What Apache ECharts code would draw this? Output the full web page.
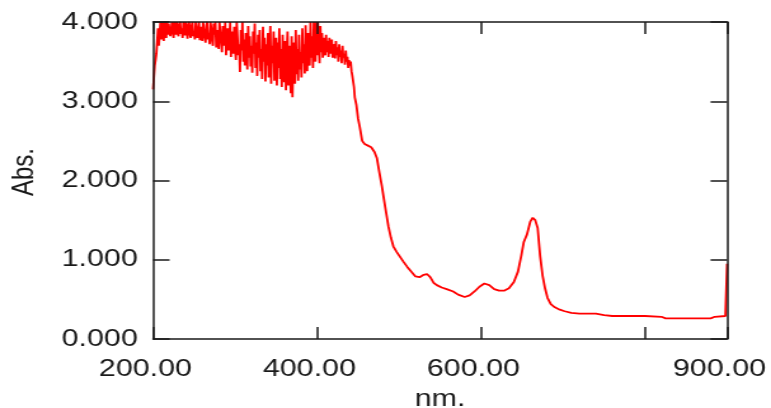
<!DOCTYPE html>
<html>
<head>
<meta charset="utf-8">
<script src="https://cdn.jsdelivr.net/npm/echarts@6/dist/echarts.min.js"></script>
<style>
  html, body { margin: 0; padding: 0; background: #fff; overflow: hidden; }
  /* the source picture is a horizontally stretched bitmap, so the chart is drawn narrow and stretched */
  #chart { width: 607px; height: 408px; transform: scaleX(1.2702); transform-origin: 0 0; }
</style>
</head>
<body>
<div id="chart"></div>
<script>
// noisy UV part, 1 nm steps
var uvWavelength = [
  200, 201, 202, 203, 204, 205, 206, 207, 208, 209, 210, 211, 212, 213, 214, 215, 216, 217, 218, 219,
  220, 221, 222, 223, 224, 225, 226, 227, 228, 229, 230, 231, 232, 233, 234, 235, 236, 237, 238, 239,
  240, 241, 242, 243, 244, 245, 246, 247, 248, 249, 250, 251, 252, 253, 254, 255, 256, 257, 258, 259,
  260, 261, 262, 263, 264, 265, 266, 267, 268, 269, 270, 271, 272, 273, 274, 275, 276, 277, 278, 279,
  280, 281, 282, 283, 284, 285, 286, 287, 288, 289, 290, 291, 292, 293, 294, 295, 296, 297, 298, 299,
  300, 301, 302, 303, 304, 305, 306, 307, 308, 309, 310, 311, 312, 313, 314, 315, 316, 317, 318, 319,
  320, 321, 322, 323, 324, 325, 326, 327, 328, 329, 330, 331, 332, 333, 334, 335, 336, 337, 338, 339,
  340, 341, 342, 343, 344, 345, 346, 347, 348, 349, 350, 351, 352, 353, 354, 355, 356, 357, 358, 359,
  360, 361, 362, 363, 364, 365, 366, 367, 368, 369, 370, 371, 372, 373, 374, 375, 376, 377, 378, 379,
  380, 381, 382, 383, 384, 385, 386, 387, 388, 389, 390, 391, 392, 393, 394, 395, 396, 397, 398, 399,
  400, 401, 402, 403, 404, 405, 406, 407, 408, 409, 410, 411, 412, 413, 414, 415, 416, 417, 418, 419,
  420, 421, 422, 423, 424, 425, 426, 427, 428, 429, 430, 431, 432, 433, 434, 435, 436, 437, 438, 439,
  440, 441, 442, 443, 444, 445, 446, 447, 448
];
var uvAbsorbance = [
  3.15, 3.30, 3.45, 3.52, 3.60, 3.75, 3.92, 3.70, 3.85, 4.00, 3.78, 4.00, 3.88, 3.76, 4.00, 3.95, 3.80, 4.00, 3.84, 3.98,
  4.00, 3.82, 3.90, 4.00, 3.86, 3.80, 4.00, 3.94, 3.84, 4.00, 3.88, 3.82, 3.97, 4.00, 3.85, 3.92, 3.80, 4.00, 3.88, 3.83,
  4.00, 3.90, 3.79, 3.96, 4.00, 3.84, 3.80, 3.95, 4.00, 3.82, 3.88, 3.78, 4.00, 3.92, 3.80, 3.86, 4.00, 3.77, 3.94, 3.84,
  3.76, 4.00, 3.90, 3.80, 3.74, 3.96, 4.00, 3.78, 3.86, 3.72, 4.00, 3.92, 3.76, 3.70, 3.98, 3.84, 4.00, 3.68, 3.82, 3.90,
  3.66, 4.00, 3.86, 3.74, 3.62, 3.95, 3.80, 3.70, 4.00, 3.58, 3.84, 3.92, 3.64, 3.76, 4.00, 3.56, 3.88, 3.70, 3.60, 3.94,
  3.66, 3.52, 4.00, 3.80, 3.58, 3.72, 3.37, 3.90, 3.64, 4.00, 3.50, 3.78, 3.45, 3.86, 3.62, 3.40, 3.95, 3.55, 3.82, 3.44,
  3.70, 3.36, 3.88, 3.60, 3.98, 3.42, 3.74, 3.32, 3.84, 3.55, 3.90, 3.38, 3.66, 3.28, 3.94, 3.50, 3.80, 3.25, 3.72, 3.45,
  3.86, 3.30, 3.62, 3.95, 3.22, 3.70, 3.48, 3.88, 3.26, 3.60, 3.80, 3.20, 3.74, 3.42, 3.92, 3.28, 3.66, 3.18, 3.84, 3.50,
  3.24, 3.76, 3.14, 3.60, 3.88, 3.20, 3.70, 3.36, 3.10, 3.82, 3.05, 3.58, 3.74, 3.22, 3.90, 3.34, 3.66, 3.26, 3.84, 3.40,
  3.62, 3.30, 3.92, 3.48, 3.72, 3.35, 3.96, 3.52, 3.38, 3.86, 3.60, 3.45, 4.00, 3.55, 3.82, 3.42, 4.00, 3.66, 3.50, 4.00,
  3.58, 4.00, 3.72, 3.48, 3.95, 3.62, 3.86, 3.55, 3.80, 3.66, 3.58, 3.84, 3.62, 3.76, 3.56, 3.80, 3.66, 3.60, 3.78, 3.55,
  3.72, 3.62, 3.54, 3.76, 3.58, 3.68, 3.50, 3.72, 3.56, 3.64, 3.48, 3.70, 3.55, 3.60, 3.46, 3.64, 3.50, 3.56, 3.42, 3.52,
  3.45, 3.50, 3.38, 3.32, 3.25, 3.18, 3.05, 3.00, 2.95
];
// smoother visible / NIR part
var visWavelength = [
  450, 452, 455, 458, 462, 466, 470, 473, 476, 479, 483, 487, 490, 493, 497,
  501, 505, 510, 515, 520, 525, 530, 534, 538, 542, 546, 552, 558, 566, 572, 580, 586, 592, 598, 604,
  610, 616, 622, 628, 634, 640, 645, 649, 652, 656, 660, 663, 666, 669, 672, 675, 678, 681, 685, 690,
  696, 702, 710, 720, 730, 740, 750, 760, 780, 800, 820, 825, 850, 880, 885, 898, 900
];
var visAbsorbance = [
  2.78, 2.68, 2.50, 2.46, 2.44, 2.42, 2.36, 2.28, 2.10, 1.93, 1.67, 1.42, 1.28, 1.17, 1.10,
  1.04, 0.98, 0.91, 0.85, 0.79, 0.78, 0.81, 0.82, 0.78, 0.71, 0.68, 0.65, 0.63, 0.60, 0.56, 0.53, 0.55, 0.60, 0.66, 0.70,
  0.68, 0.63, 0.61, 0.61, 0.64, 0.72, 0.85, 1.05, 1.22, 1.32, 1.48, 1.53, 1.50, 1.40, 1.05, 0.80, 0.64, 0.52, 0.44, 0.40,
  0.37, 0.35, 0.33, 0.32, 0.32, 0.32, 0.30, 0.29, 0.29, 0.29, 0.28, 0.26, 0.26, 0.26, 0.28, 0.29, 0.95
];
var xTicks = [200, 400, 600, 800, 900];
var hiddenXLabels = [800];
var yTicks = [0, 1, 2, 3, 4];

var font = "'Liberation Sans', Arial, sans-serif";
var ink = '#1a1a1a';

var wavelength = uvWavelength.concat(visWavelength);
var absorbance = uvAbsorbance.concat(visAbsorbance);
var points = wavelength.map(function (w, i) { return [w, absorbance[i]]; });

function xAxisBase(pos, showLabel) {
  return {
    type: 'value',
    position: pos,
    min: xTicks[0],
    max: xTicks[xTicks.length - 1],
    interval: xTicks[1] - xTicks[0],
    z: 5,
    axisLine: { show: true, onZero: false, lineStyle: { color: ink, width: 1.5 } },
    axisTick: { show: true, inside: true, length: 12, lineStyle: { color: ink, width: 1.5 } },
    splitLine: { show: false },
    axisLabel: {
      show: showLabel,
      margin: 18,
      padding: [0, 12, 0, 0],
      color: ink,
      fontFamily: font,
      fontSize: 24,
      formatter: function (v) { return hiddenXLabels.indexOf(v) >= 0 ? '' : v.toFixed(2); }
    }
  };
}

function yAxisBase(pos, showLabel) {
  return {
    type: 'value',
    position: pos,
    min: yTicks[0],
    max: yTicks[yTicks.length - 1],
    interval: yTicks[1] - yTicks[0],
    z: 5,
    axisLine: { show: true, onZero: false, lineStyle: { color: ink, width: 1.5 } },
    axisTick: { show: true, inside: true, length: 13, lineStyle: { color: ink, width: 1.5 } },
    splitLine: { show: false },
    axisLabel: {
      show: showLabel,
      margin: 12,
      color: ink,
      fontFamily: font,
      fontSize: 24,
      formatter: function (v) { return v.toFixed(3); }
    }
  };
}

var bottomAxis = xAxisBase('bottom', true);
bottomAxis.name = 'nm.';
bottomAxis.nameLocation = 'middle';
bottomAxis.nameGap = 48;
bottomAxis.nameTextStyle = { color: ink, fontFamily: font, fontSize: 24 };

var leftAxis = yAxisBase('left', true);
leftAxis.name = 'Abs.';
leftAxis.nameLocation = 'middle';
leftAxis.nameGap = 89;
leftAxis.nameRotate = 90;
leftAxis.nameTextStyle = { color: ink, fontFamily: font, fontSize: 24, padding: [0, 0, 0, 17] };

var chart = echarts.init(document.getElementById('chart'), null, { renderer: 'canvas' });
chart.setOption({
  backgroundColor: '#fff',
  animation: false,
  grid: { left: 120.5, right: 34.6, top: 22, bottom: 69, containLabel: false, outerBoundsMode: 'none' },
  xAxis: [bottomAxis, xAxisBase('top', false)],
  yAxis: [leftAxis, yAxisBase('right', false)],
  series: [{
    type: 'line',
    data: points,
    xAxisIndex: 0,
    yAxisIndex: 0,
    showSymbol: false,
    symbol: 'none',
    clip: true,
    lineStyle: { color: '#ff0000', width: 1.8 },
    itemStyle: { color: '#ff0000' }
  }]
});
</script>
</body>
</html>
